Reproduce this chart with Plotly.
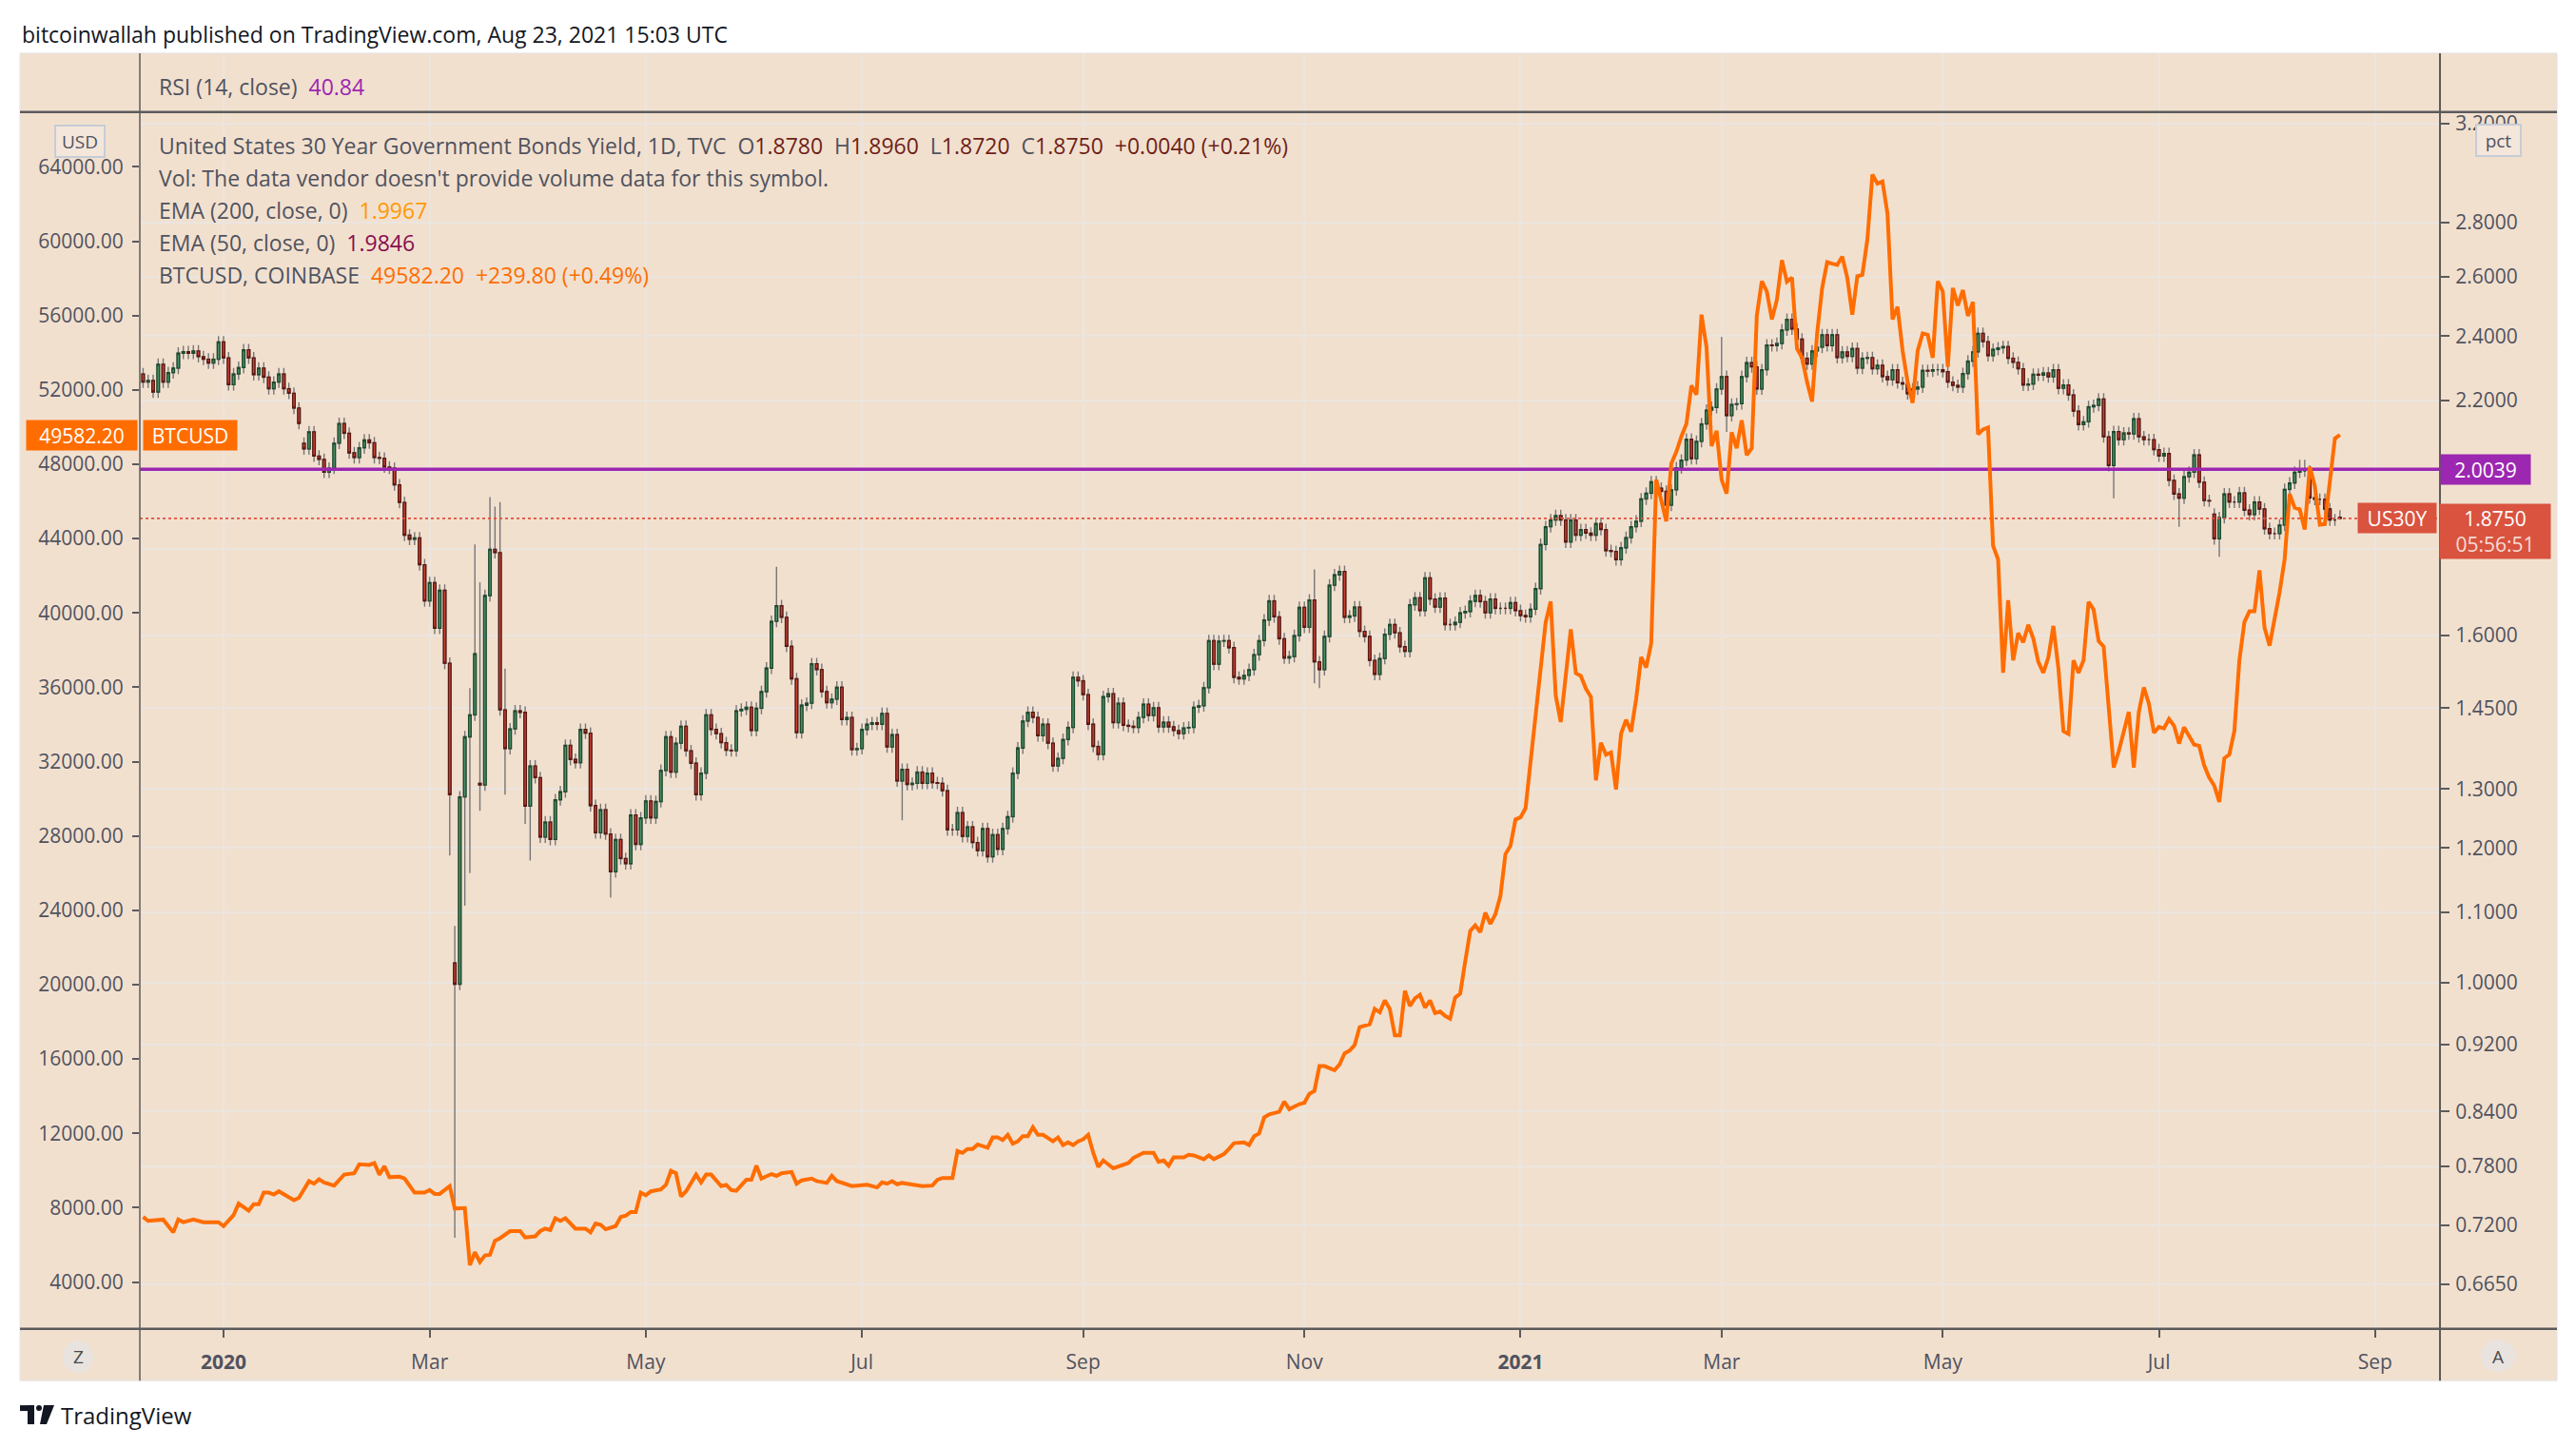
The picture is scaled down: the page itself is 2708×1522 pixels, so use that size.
import math
import pandas as pd
import plotly.graph_objects as go

W, H = 2708, 1522

# ---------------------------------------------------------------- data
# daily bars of TVC:US30Y, weekends and a few market holidays skipped
first_bar = "2019-12-09"
holidays = ["2019-12-25", "2020-01-01", "2020-02-17", "2020-04-10",
            "2020-12-25", "2021-01-01", "2021-04-02", "2021-07-05"]

us30y_close = [
    # Dec 2019
    2.255, 2.26, 2.225, 2.31, 2.255, 2.284, 2.298, 2.345, 2.35, 2.345, 2.352, 2.334, 2.326, 2.314, 2.326, 2.381,
    # Jan 2020
    2.33, 2.247, 2.28, 2.30, 2.356, 2.33, 2.278, 2.298, 2.27, 2.235, 2.255, 2.28, 2.235, 2.221, 2.177, 2.132,
    2.06, 2.108, 2.04, 2.031, 1.996, 2.007,
    # Feb 2020
    2.076, 2.132, 2.104, 2.049, 2.036, 2.063, 2.085, 2.077, 2.036, 2.034, 2.01, 2.007, 1.962, 1.916, 1.833,
    1.823, 1.826, 1.761, 1.677,
    # Mar 2020
    1.719, 1.616, 1.701, 1.541, 1.29, 0.998, 1.286, 1.395, 1.437, 1.561, 1.307, 1.689, 1.798, 1.79, 1.447,
    1.373, 1.41, 1.445, 1.442, 1.27, 1.341, 1.32,
    # Apr 2020
    1.218, 1.243, 1.214, 1.281, 1.295, 1.379, 1.353, 1.347, 1.409, 1.402, 1.271, 1.225, 1.264, 1.223, 1.162,
    1.214, 1.183, 1.175, 1.255, 1.206, 1.25,
    # May 2020
    1.279, 1.25, 1.278, 1.333, 1.395, 1.33, 1.383, 1.415, 1.369, 1.346, 1.29, 1.328, 1.437, 1.409, 1.401,
    1.384, 1.37, 1.369, 1.445, 1.448, 1.452,
    # Jun 2020
    1.407, 1.45, 1.483, 1.531, 1.631, 1.666, 1.64, 1.577, 1.509, 1.403, 1.456, 1.46, 1.54, 1.528, 1.483,
    1.461, 1.468, 1.492, 1.428, 1.432, 1.371, 1.373,
    # Jul 2020
    1.409, 1.419, 1.422, 1.419, 1.44, 1.376, 1.399, 1.314, 1.335, 1.308, 1.31, 1.33,
    1.31, 1.328, 1.311, 1.31, 1.297, 1.23, 1.23, 1.259, 1.219, 1.235, 1.209,
    # Aug 2020
    1.196, 1.232, 1.186, 1.222, 1.198, 1.232, 1.252, 1.328, 1.374, 1.425, 1.442, 1.432, 1.397, 1.419, 1.383,
    1.341, 1.355, 1.39, 1.413, 1.512, 1.505,
    # Sep 2020
    1.477, 1.419, 1.377, 1.362, 1.473, 1.479, 1.422, 1.46, 1.417, 1.415, 1.413, 1.432, 1.458, 1.436, 1.451,
    1.414, 1.423, 1.414, 1.407, 1.401, 1.412, 1.413,
    # Oct 2020
    1.452, 1.455, 1.491, 1.589, 1.539, 1.588, 1.589, 1.574, 1.512, 1.509, 1.516, 1.528, 1.559, 1.589, 1.634,
    1.677, 1.641, 1.593, 1.552, 1.555, 1.6, 1.662,
    # Nov 2020
    1.618, 1.679, 1.544, 1.528, 1.598, 1.713, 1.737, 1.745, 1.64, 1.643, 1.663, 1.609, 1.598, 1.547, 1.518,
    1.551, 1.603, 1.624, 1.606, 1.576, 1.566,
    # Dec 2020
    1.668, 1.684, 1.655, 1.73, 1.681, 1.663, 1.683, 1.624, 1.624, 1.629, 1.65, 1.653, 1.676, 1.689, 1.675,
    1.65, 1.681, 1.66, 1.66, 1.66, 1.673, 1.655,
    # Jan 2021
    1.644, 1.641, 1.658, 1.705, 1.81, 1.854, 1.871, 1.882, 1.871, 1.816, 1.871, 1.833, 1.847, 1.838, 1.833,
    1.862, 1.847, 1.795, 1.793, 1.773,
    # Feb 2021
    1.802, 1.827, 1.854, 1.868, 1.925, 1.94, 1.97, 1.953, 1.945, 1.909, 1.949, 2.008, 2.029, 2.087, 2.033,
    2.081, 2.131, 2.171, 2.179, 2.234,
    # Mar 2021
    2.272, 2.155, 2.188, 2.19, 2.272, 2.315, 2.302, 2.234, 2.293, 2.371, 2.369, 2.376, 2.42, 2.455, 2.423,
    2.39, 2.329, 2.311, 2.352, 2.364, 2.404, 2.369, 2.404,
    # Apr 2021
    2.331, 2.349, 2.335, 2.36, 2.298, 2.329, 2.331, 2.296, 2.307, 2.272, 2.262, 2.293, 2.253, 2.249, 2.22,
    2.234, 2.24, 2.291, 2.289, 2.293, 2.293,
    # May 2021
    2.287, 2.255, 2.245, 2.24, 2.281, 2.32, 2.349, 2.409, 2.382,
    2.337, 2.357, 2.362, 2.366, 2.329, 2.316, 2.296, 2.246, 2.249, 2.279, 2.276, 2.283,
    # Jun 2021
    2.271, 2.293, 2.236, 2.246, 2.216, 2.168, 2.129, 2.137, 2.181, 2.185, 2.204, 2.094, 2.014, 2.109, 2.086,
    2.105, 2.102, 2.146, 2.094, 2.086, 2.086, 2.058,
    # Jul 2021
    2.040, 2.047, 1.974, 1.938, 1.927, 1.984, 1.996, 2.043, 1.969, 1.921, 1.92, 1.824, 1.877, 1.938, 1.917,
    1.917, 1.941, 1.896, 1.885, 1.917, 1.899,
    # Aug 2021
    1.849, 1.837, 1.837, 1.858, 1.95, 1.967, 1.996, 1.999, 1.999, 1.928, 1.924, 1.924, 1.899, 1.871, 1.871,
    1.875,
]

# opens that gapped away from the previous close
gap_open = {"2019-12-09": 2.28, "2020-01-24": 2.076, "2020-03-09": 1.027,
            "2020-03-16": 1.31, "2021-07-19": 1.886}

# the longer wicks
wick_high = {"2020-03-09": 1.08, "2020-03-12": 1.49, "2020-03-13": 1.81, "2020-03-16": 1.72,
             "2020-03-18": 1.93, "2020-03-19": 1.905, "2020-03-20": 1.917, "2020-03-23": 1.53,
             "2020-06-08": 1.756, "2020-11-04": 1.75, "2021-03-01": 2.398,
             "2021-08-11": 2.03, "2021-08-12": 2.03}
wick_low = {"2020-03-06": 1.188, "2020-03-09": 0.708, "2020-03-11": 1.11, "2020-03-12": 1.16,
            "2020-03-16": 1.262, "2020-03-23": 1.29, "2020-03-27": 1.24, "2020-03-30": 1.18,
            "2020-04-22": 1.122, "2020-07-13": 1.246, "2020-11-04": 1.50, "2020-11-05": 1.49,
            "2021-03-02": 2.108, "2021-06-18": 1.927, "2021-07-08": 1.854, "2021-07-20": 1.78}

last_ohlc = (1.8780, 1.8960, 1.8720, 1.8750)
hline_level = 2.0039
ema200_last = 1.9967
ema50_last = 1.9846
rsi_last = 40.84
countdown = "05:56:51"

btc_points = [
    ("2019-12-09", 7500), ("2019-12-10", 7290), ("2019-12-13", 7360), ("2019-12-17", 6670),
    ("2019-12-18", 7360), ("2019-12-19", 7220), ("2019-12-23", 7360), ("2019-12-26", 7220),
    ("2019-12-31", 7220), ("2020-01-02", 7010), ("2020-01-06", 7600), ("2020-01-07", 8220),
    ("2020-01-09", 7840), ("2020-01-10", 8190), ("2020-01-13", 8190), ("2020-01-14", 8810),
    ("2020-01-15", 8810), ("2020-01-16", 8710), ("2020-01-17", 8880), ("2020-01-20", 8710),
    ("2020-01-21", 8600), ("2020-01-22", 8400), ("2020-01-23", 8530), ("2020-01-27", 9430),
    ("2020-01-28", 9290), ("2020-01-29", 9530), ("2020-01-30", 9360), ("2020-02-03", 9190),
    ("2020-02-05", 9780), ("2020-02-07", 9850), ("2020-02-10", 10330), ("2020-02-12", 10300),
    ("2020-02-13", 10400), ("2020-02-14", 9780), ("2020-02-18", 10230), ("2020-02-19", 9640),
    ("2020-02-21", 9670), ("2020-02-24", 9570), ("2020-02-26", 8810), ("2020-02-28", 8810),
    ("2020-03-02", 8950), ("2020-03-03", 8740), ("2020-03-04", 8740), ("2020-03-06", 9160),
    ("2020-03-09", 7950), ("2020-03-11", 7980), ("2020-03-12", 4910), ("2020-03-13", 5600),
    ("2020-03-16", 5080), ("2020-03-17", 5430), ("2020-03-18", 5460), ("2020-03-19", 6220),
    ("2020-03-20", 6360), ("2020-03-24", 6740), ("2020-03-26", 6740), ("2020-03-27", 6400),
    ("2020-03-31", 6460), ("2020-04-01", 6740), ("2020-04-02", 6870), ("2020-04-03", 6800),
    ("2020-04-06", 7430), ("2020-04-07", 7290), ("2020-04-08", 7430), ("2020-04-13", 6870),
    ("2020-04-15", 6870), ("2020-04-16", 6670), ("2020-04-17", 7150), ("2020-04-20", 7080),
    ("2020-04-21", 6840), ("2020-04-23", 7010), ("2020-04-24", 7500), ("2020-04-27", 7570),
    ("2020-04-28", 7770), ("2020-04-29", 7770), ("2020-04-30", 8810), ("2020-05-01", 8670),
    ("2020-05-04", 8880), ("2020-05-06", 8980), ("2020-05-07", 9230), ("2020-05-08", 9980),
    ("2020-05-11", 9850), ("2020-05-12", 8600), ("2020-05-13", 8880), ("2020-05-15", 9780),
    ("2020-05-18", 9360), ("2020-05-19", 9780), ("2020-05-20", 9780), ("2020-05-21", 9500),
    ("2020-05-22", 9160), ("2020-05-25", 9230), ("2020-05-26", 8950), ("2020-05-27", 8910),
    ("2020-05-29", 9500), ("2020-06-01", 9500), ("2020-06-02", 10260), ("2020-06-03", 9570),
    ("2020-06-05", 9810), ("2020-06-08", 9710), ("2020-06-09", 9850), ("2020-06-11", 9920),
    ("2020-06-12", 9290), ("2020-06-15", 9470), ("2020-06-17", 9570), ("2020-06-18", 9430),
    ("2020-06-22", 9330), ("2020-06-23", 9710), ("2020-06-24", 9430), ("2020-06-29", 9160),
    ("2020-07-01", 9230), ("2020-07-02", 9230), ("2020-07-06", 9090), ("2020-07-07", 9360),
    ("2020-07-08", 9290), ("2020-07-09", 9430), ("2020-07-10", 9260), ("2020-07-13", 9330),
    ("2020-07-14", 9290), ("2020-07-17", 9160), ("2020-07-21", 9190), ("2020-07-22", 9500),
    ("2020-07-23", 9600), ("2020-07-27", 9600), ("2020-07-28", 11050), ("2020-07-29", 10950),
    ("2020-07-30", 11160), ("2020-07-31", 11160), ("2020-08-03", 11400), ("2020-08-05", 11230),
    ("2020-08-06", 11780), ("2020-08-07", 11780), ("2020-08-10", 11640), ("2020-08-11", 11920),
    ("2020-08-12", 11440), ("2020-08-13", 11570), ("2020-08-14", 11850), ("2020-08-17", 11850),
    ("2020-08-18", 12330), ("2020-08-19", 11920), ("2020-08-20", 11920), ("2020-08-24", 11570),
    ("2020-08-25", 11780), ("2020-08-26", 11370), ("2020-08-27", 11510), ("2020-08-28", 11370),
    ("2020-08-31", 11570), ("2020-09-01", 11680), ("2020-09-02", 11920), ("2020-09-03", 10950),
    ("2020-09-04", 10190), ("2020-09-07", 10540), ("2020-09-09", 10120), ("2020-09-11", 10330),
    ("2020-09-14", 10400), ("2020-09-15", 10680), ("2020-09-17", 10950), ("2020-09-21", 10950),
    ("2020-09-22", 10470), ("2020-09-23", 10540), ("2020-09-24", 10260), ("2020-09-25", 10710),
    ("2020-09-29", 10710), ("2020-09-30", 10850), ("2020-10-01", 10810), ("2020-10-05", 10610),
    ("2020-10-06", 10810), ("2020-10-07", 10610), ("2020-10-09", 10880), ("2020-10-12", 11160),
    ("2020-10-13", 11470), ("2020-10-15", 11510), ("2020-10-16", 11370), ("2020-10-19", 11850),
    ("2020-10-20", 11990), ("2020-10-21", 12850), ("2020-10-22", 13020), ("2020-10-26", 13160),
    ("2020-10-27", 13710), ("2020-10-28", 13300), ("2020-10-30", 13570), ("2020-11-02", 13640),
    ("2020-11-03", 14130), ("2020-11-04", 14280), ("2020-11-05", 15620), ("2020-11-06", 15620),
    ("2020-11-10", 15400), ("2020-11-11", 15700), ("2020-11-12", 16300), ("2020-11-13", 16450),
    ("2020-11-16", 16750), ("2020-11-17", 17720), ("2020-11-19", 17870), ("2020-11-20", 18700),
    ("2020-11-23", 18510), ("2020-11-24", 19150), ("2020-11-25", 18700), ("2020-11-26", 17270),
    ("2020-11-27", 17270), ("2020-11-30", 19670), ("2020-12-01", 18850), ("2020-12-02", 19260),
    ("2020-12-03", 19450), ("2020-12-04", 18770), ("2020-12-07", 19150), ("2020-12-08", 18470),
    ("2020-12-09", 18550), ("2020-12-10", 18320), ("2020-12-11", 18170), ("2020-12-14", 19300),
    ("2020-12-15", 19520), ("2020-12-16", 21250), ("2020-12-17", 22890), ("2020-12-18", 23190),
    ("2020-12-21", 22820), ("2020-12-22", 23870), ("2020-12-23", 23270), ("2020-12-24", 23790),
    ("2020-12-28", 24770), ("2020-12-29", 27020), ("2020-12-30", 27470), ("2020-12-31", 28890),
    ("2021-01-04", 29000), ("2021-01-05", 29490), ("2021-01-06", 32000), ("2021-01-07", 34060),
    ("2021-01-08", 36680), ("2021-01-11", 39490), ("2021-01-12", 40620), ("2021-01-13", 35560),
    ("2021-01-14", 34130), ("2021-01-15", 36680), ("2021-01-18", 39120), ("2021-01-19", 36760),
    ("2021-01-20", 36610), ("2021-01-21", 35930), ("2021-01-22", 35480), ("2021-01-25", 30990),
    ("2021-01-26", 33010), ("2021-01-27", 32370), ("2021-01-28", 32490), ("2021-01-29", 30500),
    ("2021-02-01", 33500), ("2021-02-02", 34250), ("2021-02-03", 33610), ("2021-02-04", 35370),
    ("2021-02-05", 37620), ("2021-02-08", 37060), ("2021-02-09", 38370), ("2021-02-10", 47170),
    ("2021-02-11", 46050), ("2021-02-12", 44930), ("2021-02-15", 48040), ("2021-02-16", 48670),
    ("2021-02-17", 49500), ("2021-02-18", 50170), ("2021-02-19", 52230), ("2021-02-22", 51740),
    ("2021-02-23", 56050), ("2021-02-24", 54290), ("2021-02-25", 48970), ("2021-02-26", 49800),
    ("2021-03-01", 47170), ("2021-03-02", 46420), ("2021-03-03", 49720), ("2021-03-04", 48860),
    ("2021-03-05", 50360), ("2021-03-08", 48490), ("2021-03-09", 48860), ("2021-03-10", 55980),
    ("2021-03-11", 57850), ("2021-03-12", 57290), ("2021-03-15", 55790), ("2021-03-16", 56840),
    ("2021-03-17", 58980), ("2021-03-18", 57820), ("2021-03-19", 58040), ("2021-03-22", 54220),
    ("2021-03-23", 53730), ("2021-03-24", 52420), ("2021-03-25", 51370), ("2021-03-26", 55040),
    ("2021-03-29", 57480), ("2021-03-30", 58870), ("2021-03-31", 58790), ("2021-04-01", 58720),
    ("2021-04-05", 59170), ("2021-04-06", 58040), ("2021-04-07", 56050), ("2021-04-08", 58120),
    ("2021-04-09", 58190), ("2021-04-12", 60100), ("2021-04-13", 63590), ("2021-04-14", 63100),
    ("2021-04-15", 63210), ("2021-04-16", 61490), ("2021-04-19", 55790), ("2021-04-20", 56470),
    ("2021-04-21", 54110), ("2021-04-22", 52420), ("2021-04-23", 51300), ("2021-04-26", 54110),
    ("2021-04-27", 55040), ("2021-04-28", 54970), ("2021-04-29", 53730), ("2021-04-30", 57850),
    ("2021-05-03", 57290), ("2021-05-04", 53240), ("2021-05-05", 57480), ("2021-05-06", 56540),
    ("2021-05-07", 57370), ("2021-05-10", 55980), ("2021-05-11", 56730), ("2021-05-12", 49610),
    ("2021-05-13", 49870), ("2021-05-14", 49970), ("2021-05-17", 43610), ("2021-05-18", 42880),
    ("2021-05-19", 36780), ("2021-05-20", 40680), ("2021-05-21", 37450), ("2021-05-24", 38920),
    ("2021-05-25", 38420), ("2021-05-26", 39360), ("2021-05-27", 38630), ("2021-05-28", 37370),
    ("2021-05-31", 36780), ("2021-06-01", 37600), ("2021-06-02", 39300), ("2021-06-03", 37010),
    ("2021-06-04", 33640), ("2021-06-07", 33490), ("2021-06-08", 37450), ("2021-06-09", 36780),
    ("2021-06-10", 37450), ("2021-06-11", 40590), ("2021-06-14", 40180), ("2021-06-15", 38480),
    ("2021-06-16", 38190), ("2021-06-18", 31680), ("2021-06-21", 32550), ("2021-06-22", 33640),
    ("2021-06-23", 34670), ("2021-06-24", 31680), ("2021-06-25", 34670), ("2021-06-28", 35990),
    ("2021-06-29", 35110), ("2021-06-30", 33550), ("2021-07-01", 33870), ("2021-07-02", 33790),
    ("2021-07-06", 34290), ("2021-07-07", 33930), ("2021-07-08", 32970), ("2021-07-09", 33850),
    ("2021-07-13", 32910), ("2021-07-14", 32850), ("2021-07-15", 31790), ("2021-07-16", 31140),
    ("2021-07-19", 30710), ("2021-07-20", 29830), ("2021-07-21", 32180), ("2021-07-22", 32380),
    ("2021-07-23", 33640), ("2021-07-26", 37450), ("2021-07-27", 39510), ("2021-07-28", 40090),
    ("2021-07-29", 40090), ("2021-07-30", 42290), ("2021-08-02", 39210), ("2021-08-03", 38240),
    ("2021-08-04", 39650), ("2021-08-05", 41120), ("2021-08-06", 42880), ("2021-08-09", 46400),
    ("2021-08-10", 45660), ("2021-08-11", 45570), ("2021-08-12", 44490), ("2021-08-13", 47860),
    ("2021-08-16", 46830), ("2021-08-17", 44750), ("2021-08-18", 44780), ("2021-08-19", 46980),
    ("2021-08-20", 49390), ("2021-08-23", 49582.20),
]
btc_change = 239.80

month_ticks = ["2020-01", "2020-03", "2020-05", "2020-07", "2020-09", "2020-11",
               "2021-01", "2021-03", "2021-05", "2021-07", "2021-09"]
month_labels = ["<b>2020</b>", "Mar", "May", "Jul", "Sep", "Nov",
                "<b>2021</b>", "Mar", "May", "Jul", "Sep"]
pct_ticks = [3.2, 2.8, 2.6, 2.4, 2.2, 2.0, 1.8, 1.6, 1.45, 1.3, 1.2, 1.1, 1.0,
             0.92, 0.84, 0.78, 0.72, 0.665]
# 2.0000 and 1.8000 sit under the price labels, only their grid lines show
pct_hidden = [2.0, 1.8]
usd_ticks = [4000 * k for k in range(1, 17)]

# ---------------------------------------------------------------- styles
PANEL = "#f2e0cf"
GRID = "#ebe5df"
AXIS = "#5b5b5b"
TXT = "#50535e"
DARK = "#131722"
UP_FILL, UP_LINE = "#4f9569", "#1d4a2d"
DN_FILL, DN_LINE = "#cd4535", "#5a1711"
WICK = "#767676"
BTC_COL = "#ff6d00"
PURPLE = "#9c27b0"
RED_LBL = "#d9533f"
FONT = "Open Sans, Lato, DejaVu Sans, sans-serif"


def fx(p):
    return p / W


def fy(p):
    return 1 - p / H


# ---------------------------------------------------------------- bars
n = len(us30y_close)
cal = pd.bdate_range(first_bar, periods=n + 30, freq="C", holidays=holidays)
day = [d.strftime("%Y-%m-%d") for d in cal]
bar_of = {d: i for i, d in enumerate(day)}
xs = list(range(n))

closes = list(us30y_close)
opens = [gap_open.get(day[i], closes[i - 1] if i else closes[0]) for i in range(n)]
opens[-1] = last_ohlc[0]
wick_high[day[n - 1]] = last_ohlc[1]
wick_low[day[n - 1]] = last_ohlc[2]
highs = [wick_high.get(day[i], max(opens[i], closes[i]) * 1.008) for i in range(n)]
lows = [wick_low.get(day[i], min(opens[i], closes[i]) / 1.008) for i in range(n)]
body_top = [max(o, c) for o, c in zip(opens, closes)]
body_bot = [min(o, c) for o, c in zip(opens, closes)]

btc_x = [bar_of[d] for d, _ in btc_points]
btc_y = [v for _, v in btc_points]
last_btc = btc_y[-1]

tick_idx = [int(cal.searchsorted(pd.Timestamp(m + "-01"))) for m in month_ticks]
pct_text = ["" if v in pct_hidden else f"{v:.4f}" for v in pct_ticks]

x_range = [-0.65, 456.9]
pct_range = [math.log10(0.6259), math.log10(3.2503)]
usd_range = [1481, 66948]

fig = go.Figure()

# wicks (grey) first, bodies with dark outline on top
fig.add_trace(go.Candlestick(
    x=xs, open=opens, high=highs, low=lows, close=closes,
    increasing=dict(line=dict(color=WICK, width=1.4), fillcolor=WICK),
    decreasing=dict(line=dict(color=WICK, width=1.4), fillcolor=WICK),
    whiskerwidth=0, hoverinfo="skip", showlegend=False))
fig.add_trace(go.Candlestick(
    x=xs, open=opens, high=body_top, low=body_bot, close=closes,
    increasing=dict(line=dict(color=UP_LINE, width=1.3), fillcolor=UP_FILL),
    decreasing=dict(line=dict(color=DN_LINE, width=1.3), fillcolor=DN_FILL),
    whiskerwidth=0, hoverinfo="skip", showlegend=False))

fig.add_trace(go.Scatter(x=x_range, y=[hline_level, hline_level], mode="lines",
                         line=dict(color=PURPLE, width=3.5), hoverinfo="skip", showlegend=False))
fig.add_trace(go.Scatter(x=x_range, y=[last_ohlc[3], last_ohlc[3]], mode="lines",
                         line=dict(color="#e0503c", width=1.6, dash="dot"),
                         hoverinfo="skip", showlegend=False))

fig.add_trace(go.Scatter(x=btc_x, y=btc_y, yaxis="y2", mode="lines",
                         line=dict(color=BTC_COL, width=4), hoverinfo="skip", showlegend=False))

# empty RSI pane (only its grid shows)
fig.add_trace(go.Scatter(x=[0], y=[-10], xaxis="x2", yaxis="y3", mode="markers",
                         marker=dict(opacity=0), hoverinfo="skip", showlegend=False))

tickfont = dict(size=21, color=TXT, family=FONT)
fig.update_layout(
    width=W, height=H, margin=dict(l=0, r=0, t=0, b=0),
    paper_bgcolor="white", plot_bgcolor="rgba(0,0,0,0)",
    font=dict(family=FONT, color=TXT), showlegend=False, boxmode="overlay",
    xaxis=dict(domain=[fx(147), fx(2565)], range=x_range, anchor="y",
               tickmode="array", tickvals=tick_idx, ticktext=month_labels,
               ticks="outside", ticklen=8, tickwidth=2, tickcolor=AXIS,
               showgrid=True, gridcolor=GRID, gridwidth=1.5, zeroline=False,
               showline=False, tickfont=tickfont, ticklabelstandoff=8,
               rangeslider=dict(visible=False)),
    yaxis=dict(domain=[fy(1396.5), fy(115)], type="log", range=pct_range,
               side="right", anchor="x", tickmode="array", tickvals=pct_ticks,
               ticktext=pct_text, ticks="outside", ticklen=9, tickwidth=2,
               tickcolor=AXIS, showgrid=True, gridcolor=GRID, gridwidth=1.5,
               zeroline=False, showline=False, tickfont=tickfont, ticklabelstandoff=2),
    yaxis2=dict(overlaying="y", side="left", anchor="x", range=usd_range,
                tickmode="array", tickvals=usd_ticks, tickformat=".2f",
                ticks="outside", ticklen=7, tickwidth=2, tickcolor=AXIS,
                showgrid=False, zeroline=False, showline=False,
                tickfont=tickfont, ticklabelstandoff=5),
    xaxis2=dict(domain=[fx(147), fx(2565)], range=x_range, anchor="y3",
                tickmode="array", tickvals=tick_idx, showticklabels=False, ticks="",
                showgrid=True, gridcolor=GRID, gridwidth=1.5, zeroline=False),
    yaxis3=dict(domain=[fy(115), fy(53)], range=[0, 100], anchor="x2",
                showgrid=False, showticklabels=False, zeroline=False, ticks=""),
)

# ---------------------------------------------------------------- frame
def hline(y, x0, x1, width, color=AXIS):
    return dict(type="line", xref="paper", yref="paper", x0=fx(x0), x1=fx(x1),
                y0=fy(y), y1=fy(y), line=dict(color=color, width=width), layer="above")


def vline(x, y0, y1, width, color=AXIS):
    return dict(type="line", xref="paper", yref="paper", x0=fx(x), x1=fx(x),
                y0=fy(y0), y1=fy(y1), line=dict(color=color, width=width), layer="above")


shapes = [
    dict(type="rect", xref="paper", yref="paper", x0=fx(21), x1=fx(2688), y0=fy(1451), y1=fy(53),
         fillcolor=PANEL, line=dict(color="#e3e3e3", width=1), layer="below"),
    hline(115, 21, 2688, 2.5),
    hline(1396.5, 21, 2688, 2.5),
    vline(147, 53, 1451, 1.5),
    vline(2565, 53, 1451, 2),
    dict(type="circle", xref="paper", yref="paper", x0=fx(66), x1=fx(98), y0=fy(1443), y1=fy(1409),
         fillcolor="#e8e3de", line=dict(width=0), layer="above"),
    dict(type="circle", xref="paper", yref="paper", x0=fx(2608), x1=fx(2644), y0=fy(1442), y1=fy(1408),
         fillcolor="#e8e3de", line=dict(width=0), layer="above"),
    # TradingView logo mark
    dict(type="rect", xref="paper", yref="paper", x0=fx(21), x1=fx(36), y0=fy(1483), y1=fy(1477),
         fillcolor=DARK, line=dict(width=0)),
    dict(type="rect", xref="paper", yref="paper", x0=fx(29), x1=fx(36), y0=fy(1497), y1=fy(1477),
         fillcolor=DARK, line=dict(width=0)),
    dict(type="circle", xref="paper", yref="paper", x0=fx(38), x1=fx(44), y0=fy(1483), y1=fy(1477),
         fillcolor=DARK, line=dict(width=0)),
    dict(type="path", xref="paper", yref="paper",
         path=f"M {fx(46)} {fy(1477)} L {fx(57)} {fy(1477)} L {fx(49)} {fy(1497)} L {fx(42)} {fy(1497)} Z",
         fillcolor=DARK, line=dict(width=0)),
]
fig.update_layout(shapes=shapes)

# ---------------------------------------------------------------- texts
def note(text, x, y, size=23, color=TXT, xanchor="left", **kw):
    d = dict(text=text, x=fx(x), y=fy(y), xref="paper", yref="paper", showarrow=False,
             xanchor=xanchor, yanchor="middle", font=dict(size=size, color=color, family=FONT))
    d.update(kw)
    return d


o, h, l, c = last_ohlc
prev = closes[-2]
chg = c - prev
VAL = "#6e1f17"
sp = "&nbsp;&nbsp;"


def val(v, col=VAL):
    return f'<span style="color:{col}">{v}</span>'


legend1 = ("United States 30 Year Government Bonds Yield, 1D, TVC" + sp +
           "O" + val(f"{o:.4f}") + sp + "H" + val(f"{h:.4f}") + sp +
           "L" + val(f"{l:.4f}") + sp + "C" + val(f"{c:.4f}") + sp +
           val(f"{chg:+.4f} ({chg / prev * 100:+.2f}%)"))
btc_pct = btc_change / (last_btc - btc_change) * 100

annotations = [
    note("bitcoinwallah published on TradingView.com, Aug 23, 2021 15:03 UTC", 21, 33, color=DARK),
    note("RSI (14, close)" + sp + val(f"{rsi_last:.2f}", PURPLE), 165, 88),
    note(legend1, 165, 150),
    note("Vol: The data vendor doesn't provide volume data for this symbol.", 165, 184),
    note("EMA (200, close, 0)" + sp + val(f"{ema200_last:.4f}", "#ff9800"), 165, 218),
    note("EMA (50, close, 0)" + sp + val(f"{ema50_last:.4f}", "#880e4f"), 165, 252),
    note("BTCUSD, COINBASE" + sp + val(f"{last_btc:.2f}{sp}{btc_change:+.2f} ({btc_pct:+.2f}%)", BTC_COL),
         165, 287),
    note("USD", 84, 146, size=19, xanchor="center", bgcolor="#f4e6da", bordercolor="#c6ccd6",
         borderwidth=2, borderpad=2, width=46, height=27),
    note("pct", 2626, 145, size=19, xanchor="center", bgcolor="#f4e6da", bordercolor="#c6ccd6",
         borderwidth=2, borderpad=2, width=41, height=27),
    note("Z", 82, 1426, size=19, xanchor="center", color="#4a4a4a"),
    note("A", 2626, 1426, size=19, xanchor="center", color="#4a4a4a"),
    note("TradingView", 62, 1487, size=24, color=DARK),
    # price labels on the left (USD) scale
    dict(text=f"{last_btc:.2f}", x=fx(145), xref="paper", y=last_btc, yref="y2",
         xanchor="right", yanchor="middle", showarrow=False, bgcolor=BTC_COL,
         width=110, height=25, borderpad=3, font=dict(size=21, color="white", family=FONT)),
    dict(text="BTCUSD", x=fx(150), xref="paper", y=last_btc, yref="y2",
         xanchor="left", yanchor="middle", showarrow=False, bgcolor=BTC_COL,
         width=92, height=25, borderpad=3, font=dict(size=21, color="white", family=FONT)),
    # price labels on the right (pct) scale, log axis -> log10 positions
    dict(text=f"{hline_level:.4f}", x=fx(2565), xref="paper", y=math.log10(hline_level), yref="y",
         xanchor="left", yanchor="middle", showarrow=False, bgcolor=PURPLE,
         width=88, height=25, borderpad=3, font=dict(size=21, color="white", family=FONT)),
    dict(text="US30Y", x=fx(2562), xref="paper", y=math.log10(c), yref="y",
         xanchor="right", yanchor="middle", showarrow=False, bgcolor=RED_LBL,
         width=76, height=25, borderpad=3, font=dict(size=21, color="white", family=FONT)),
    dict(text=f"{c:.4f}<br><span style='color:rgba(255,255,255,0.8)'>{countdown}</span>",
         x=fx(2564), xref="paper", y=math.log10(c), yref="y", yshift=16,
         xanchor="left", yanchor="top", showarrow=False, bgcolor=RED_LBL, align="center",
         width=110, height=51, borderpad=3, font=dict(size=21, color="white", family=FONT)),
]
fig.update_layout(annotations=annotations)

# the page's default 8px body margin would shift the whole figure
fig.write_html("out.html", config={"displayModeBar": False},
               post_script="document.body.style.margin='0px';")
